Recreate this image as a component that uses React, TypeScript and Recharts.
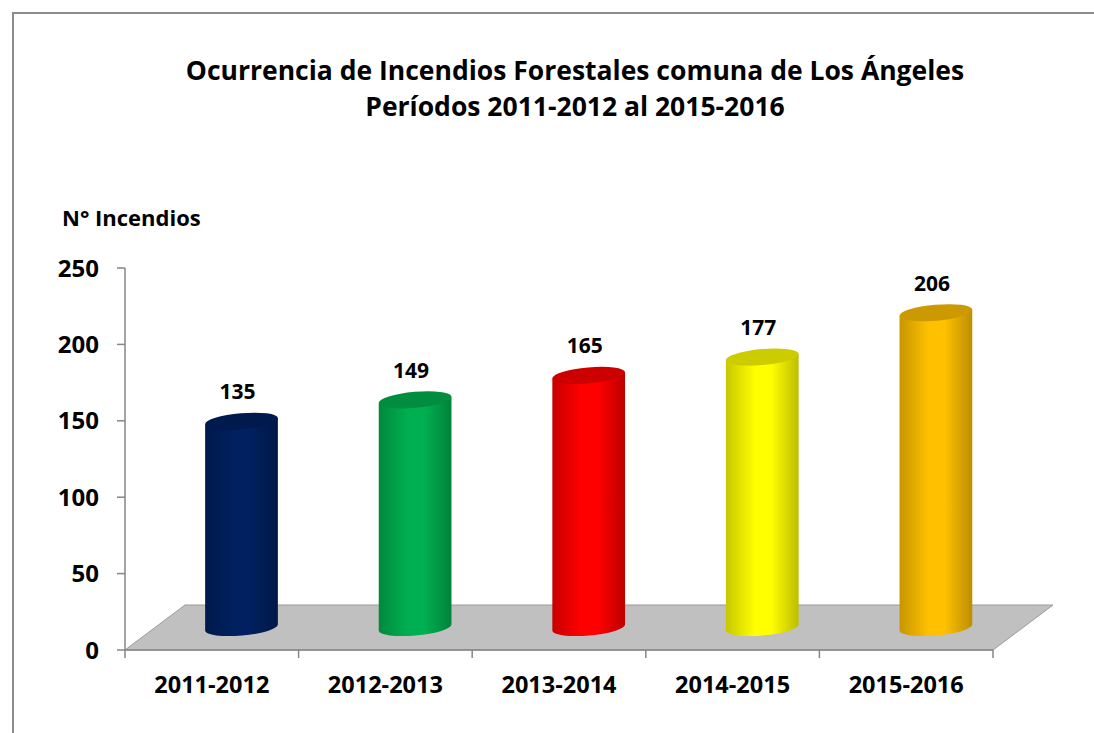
import { Bar, BarChart, LabelList, ReferenceArea, XAxis, YAxis } from "recharts";

const periods = ["2011-2012", "2012-2013", "2013-2014", "2014-2015", "2015-2016"];
const incendios = [135, 149, 165, 177, 206];
const barColors = ["#002060", "#00B050", "#FF0000", "#FFFF00", "#FFC000"];
const yTicks = [0, 50, 100, 150, 200, 250];

const data = periods.map((p, i) => ({ periodo: p, n: incendios[i], color: barColors[i] }));

const FONT = "'Open Sans', sans-serif";
const PLOT_LEFT = 125;
const PLOT_RIGHT = 993;
const CAT_W = (PLOT_RIGHT - PLOT_LEFT) / periods.length;
// 3D depth: floor goes back by (DX*2, DY*2); bars stand in the middle
const DX = 30;
const DY = -22.5;
const RY = 8;
const TILT = -5;

function shade(hex: string, f: number) {
  const n = parseInt(hex.slice(1), 16);
  const r = Math.round(((n >> 16) & 255) * f);
  const g = Math.round(((n >> 8) & 255) * f);
  const b = Math.round((n & 255) * f);
  return `rgb(${r},${g},${b})`;
}

function Cylinder(props: any) {
  const { x, y, width, height, index } = props;
  const color = barColors[index];
  const rx = width / 2;
  const cx = x + rx + DX;
  const top = y + DY;
  const bot = y + height + DY;
  const a = (TILT * Math.PI) / 180;
  const ox = rx * Math.cos(a);
  const oy = rx * Math.sin(a);
  const id = `cyl${index}`;
  const body = `M${cx - ox},${top - oy} L${cx - ox},${bot - oy} A${rx},${RY} ${TILT} 0 0 ${cx + ox},${bot + oy} L${cx + ox},${top + oy} Z`;
  return (
    <g>
      <defs>
        <linearGradient id={id} x1="0" y1="0" x2="1" y2="0">
          <stop offset="0%" stopColor={shade(color, 0.78)} />
          <stop offset="40%" stopColor={shade(color, 1)} />
          <stop offset="62%" stopColor={shade(color, 1)} />
          <stop offset="100%" stopColor={shade(color, 0.74)} />
        </linearGradient>
      </defs>
      <path d={body} fill={`url(#${id})`} />
      <ellipse
        cx={cx}
        cy={top}
        rx={rx}
        ry={RY}
        fill={shade(color, 0.8)}
        transform={`rotate(${TILT} ${cx} ${top})`}
      />
    </g>
  );
}

function Floor(props: any) {
  const { x, y, width, height } = props;
  const fy = y + height;
  const pts = [
    [x, fy],
    [x + width, fy],
    [x + width + DX * 2, fy + DY * 2],
    [x + DX * 2, fy + DY * 2],
  ]
    .map((p) => p.join(","))
    .join(" ");
  return <polygon points={pts} fill="#C0C0C0" stroke="#9A9A9A" strokeWidth={1} />;
}

function PeriodTick(props: any) {
  const { x, y, payload, index } = props;
  return (
    <g>
      <line x1={x - CAT_W / 2} y1={y} x2={x - CAT_W / 2} y2={y + 8} stroke="#868686" strokeWidth={1.5} />
      {index === periods.length - 1 && (
        <line x1={x + CAT_W / 2} y1={y} x2={x + CAT_W / 2} y2={y + 8} stroke="#868686" strokeWidth={1.5} />
      )}
      <text x={x} y={y + 34} textAnchor="middle" dominantBaseline="central" fontFamily={FONT} fontWeight={700} fontSize={23.5} fill="#000">
        {payload.value}
      </text>
    </g>
  );
}

function ValueLabel(props: any) {
  const { x, y, width, value } = props;
  return (
    <text x={x + width / 2 + DX - 4} y={y + DY - 30} textAnchor="middle" dominantBaseline="central" fontFamily={FONT} fontWeight={700} fontSize={21} fill="#000">
      {value}
    </text>
  );
}

export default function App() {
  return (
    <div style={{ position: "absolute", left: 0, top: 0, width: 1094, height: 733, overflow: "hidden", background: "#fff" }}>
      <div style={{ position: "absolute", left: 12, top: 12, right: 0, bottom: 0, borderTop: "2px solid #8C8C8C", borderLeft: "2px solid #8C8C8C" }} />
      <div style={{ position: "absolute", left: 0, top: 52, width: 1150, textAlign: "center", fontFamily: FONT, fontWeight: 700, fontSize: 26.5, lineHeight: "36px", color: "#000" }}>
        Ocurrencia de Incendios Forestales comuna de Los Ángeles
        <br />
        Períodos 2011-2012 al 2015-2016
      </div>
      <div style={{ position: "absolute", left: 62, top: 202, fontFamily: FONT, fontWeight: 700, fontSize: 22, color: "#000" }}>
        N° Incendios
      </div>
      <div style={{ position: "absolute", left: 0, top: 0 }}>
        <BarChart width={1094} height={733} data={data} margin={{ top: 268, right: 1094 - PLOT_RIGHT, bottom: 33, left: 65 }} barSize={73}>
          <ReferenceArea y1={0} y2={250} shape={<Floor />} fill="none" />
          <XAxis
            dataKey="periodo"
            height={50}
            interval={0}
            tickLine={false}
            tickSize={0}
            tickMargin={0}
            axisLine={{ stroke: "#868686", strokeWidth: 1.5 }}
            tick={<PeriodTick />}
          />
          <YAxis
            width={60}
            domain={[0, 250]}
            ticks={yTicks}
            tickSize={8}
            tickMargin={18}
            axisLine={{ stroke: "#868686", strokeWidth: 1.5 }}
            tickLine={{ stroke: "#868686", strokeWidth: 1.5 }}
            tick={{ fontFamily: FONT, fontWeight: 700, fontSize: 24, fill: "#000" }}
          />
          <Bar dataKey="n" shape={<Cylinder />} isAnimationActive={false}>
            <LabelList dataKey="n" content={<ValueLabel />} />
          </Bar>
        </BarChart>
      </div>
    </div>
  );
}
